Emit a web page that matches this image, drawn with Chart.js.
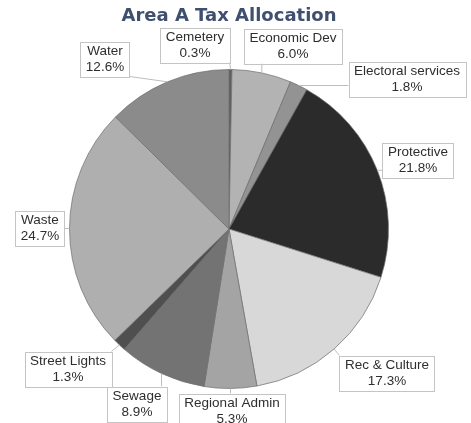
<!DOCTYPE html>
<html>
<head>
<meta charset="utf-8">
<script src="https://cdn.jsdelivr.net/npm/chart.js@4"></script>
<style>
  html, body { margin: 0; padding: 0; background: #fff; }
  #wrap { width: 471px; height: 423px; }
</style>
</head>
<body>
<div id="wrap"><canvas id="c" width="471" height="423"></canvas></div>
<script>
const categories = ['Cemetery', 'Economic Dev', 'Electoral services', 'Protective', 'Rec & Culture',
  'Regional Admin', 'Sewage', 'Street Lights', 'Waste', 'Water'];
const shares = [0.3, 6.0, 1.8, 21.8, 17.3, 5.3, 8.9, 1.3, 24.7, 12.6];
const sliceColors = ['#5e5e5e', '#b3b3b3', '#939393', '#2b2b2b', '#d8d8d8',
  '#a4a4a4', '#737373', '#4f4f4f', '#afafaf', '#8b8b8b'];

// label box centres, relative to the pie centre (layout only)
const labelOffsets = [
  [-34, -184], [64, -183], [178, -150], [189, -69], [158, 144],
  [3, 182], [-92, 175], [-161, 140], [-189, -1], [-124, -170]
];

const calloutPlugin = {
  id: 'callouts',
  afterDatasetsDraw(chart) {
    const { ctx } = chart;
    const meta = chart.getDatasetMeta(0);
    ctx.save();
    ctx.font = '13.5px "Liberation Sans", Arial, sans-serif';
    ctx.textAlign = 'center';
    ctx.textBaseline = 'middle';
    meta.data.forEach((arc, i) => {
      const cx = arc.x, cy = arc.y;
      const mid = (arc.startAngle + arc.endAngle) / 2;
      const ex = cx + Math.cos(mid) * arc.outerRadius;
      const ey = cy + Math.sin(mid) * arc.outerRadius;
      const bx = cx + labelOffsets[i][0];
      const by = cy + labelOffsets[i][1];
      const l1 = categories[i];
      const l2 = shares[i].toFixed(1) + '%';
      const w = Math.max(ctx.measureText(l1).width, ctx.measureText(l2).width) + 11;
      const h = 35;
      const x0 = bx - w / 2, y0 = by - h / 2;
      // leader line to nearest point on the box
      const px = Math.min(Math.max(ex, x0), x0 + w);
      const py = Math.min(Math.max(ey, y0), y0 + h);
      ctx.strokeStyle = '#bdbdbd';
      ctx.lineWidth = 1;
      ctx.beginPath();
      ctx.moveTo(px, py);
      ctx.lineTo(ex, ey);
      ctx.stroke();
      ctx.fillStyle = '#fff';
      ctx.fillRect(x0, y0, w, h);
      ctx.strokeStyle = '#c4c4c4';
      ctx.strokeRect(Math.round(x0) + 0.5, Math.round(y0) + 0.5, Math.round(w), h);
      ctx.fillStyle = '#2e2e2e';
      ctx.fillText(l1, bx, by - 7.5);
      ctx.fillText(l2, bx, by + 8);
    });
    ctx.restore();
  }
};

new Chart(document.getElementById('c'), {
  type: 'pie',
  data: {
    labels: categories,
    datasets: [{
      data: shares,
      backgroundColor: sliceColors,
      borderColor: 'rgba(110,110,110,0.7)',
      borderWidth: 1
    }]
  },
  options: {
    responsive: false,
    animation: false,
    layout: { padding: { left: 69, right: 82, top: 0, bottom: 34 } },
    plugins: {
      legend: { display: false },
      tooltip: { enabled: false },
      title: {
        display: true,
        text: 'Area A Tax Allocation',
        color: '#3e4f6f',
        font: { family: '"DejaVu Sans", sans-serif', size: 18, weight: 'bold' },
        padding: { top: 6, bottom: 41.4 }
      }
    }
  },
  plugins: [calloutPlugin]
});
</script>
</body>
</html>
